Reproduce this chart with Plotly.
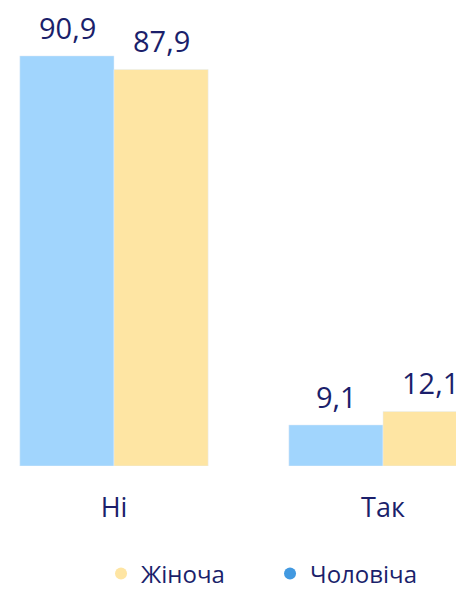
import plotly.graph_objects as go

categories = ["Ні", "Так"]
male_values = [90.9, 9.1]      # Чоловіча
female_values = [87.9, 12.1]   # Жіноча
male_name = "Чоловіча"
female_name = "Жіноча"

NAVY = "#1b1f6b"
BLUE_BAR = "#a1d5fd"
YELLOW_BAR = "#fee5a3"
BLUE_DOT = "#4299e0"
FONT = "Open Sans"

def fmt(v):
    return f"{v:.1f}".replace(".", ",")

fig = go.Figure()
fig.add_trace(go.Bar(x=categories, y=male_values, name=male_name,
                     marker_color=BLUE_BAR, showlegend=False))
fig.add_trace(go.Bar(x=categories, y=female_values, name=female_name,
                     marker_color=YELLOW_BAR, showlegend=False))
# legend entries (dots)
fig.add_trace(go.Scatter(x=[None], y=[None], mode="markers", name=female_name,
                         marker=dict(color=YELLOW_BAR, size=14), legendrank=1))
fig.add_trace(go.Scatter(x=[None], y=[None], mode="markers", name=male_name,
                         marker=dict(color=BLUE_DOT, size=14), legendrank=2))

annotations = []
for cat, mv, fv in zip(categories, male_values, female_values):
    for v, shift in ((mv, -47), (fv, 47)):
        annotations.append(dict(x=cat, y=v, xref="x", yref="y", text=fmt(v),
                                showarrow=False, xshift=shift, yshift=7,
                                yanchor="bottom",
                                font=dict(family=FONT, size=29, color=NAVY)))

fig.update_layout(
    width=456, height=582,
    margin=dict(l=0, r=0, t=10, b=124, autoexpand=False),
    paper_bgcolor="white", plot_bgcolor="white",
    barmode="group", bargap=0.3, bargroupgap=0,
    font=dict(family=FONT, color=NAVY),
    annotations=annotations,
    xaxis=dict(type="category", range=[-0.394, 1.301], showgrid=False,
               zeroline=False, showline=False, ticks="", automargin=False,
               tickfont=dict(size=27, color=NAVY), ticklabelstandoff=23),
    yaxis=dict(range=[0, 99.3], visible=False, automargin=False),
    legend=dict(orientation="h", x=0.204, xanchor="left", y=-0.241, yanchor="middle",
                font=dict(size=24, color=NAVY), entrywidth=124, itemsizing="constant"),
)
fig.write_html("out.html")
